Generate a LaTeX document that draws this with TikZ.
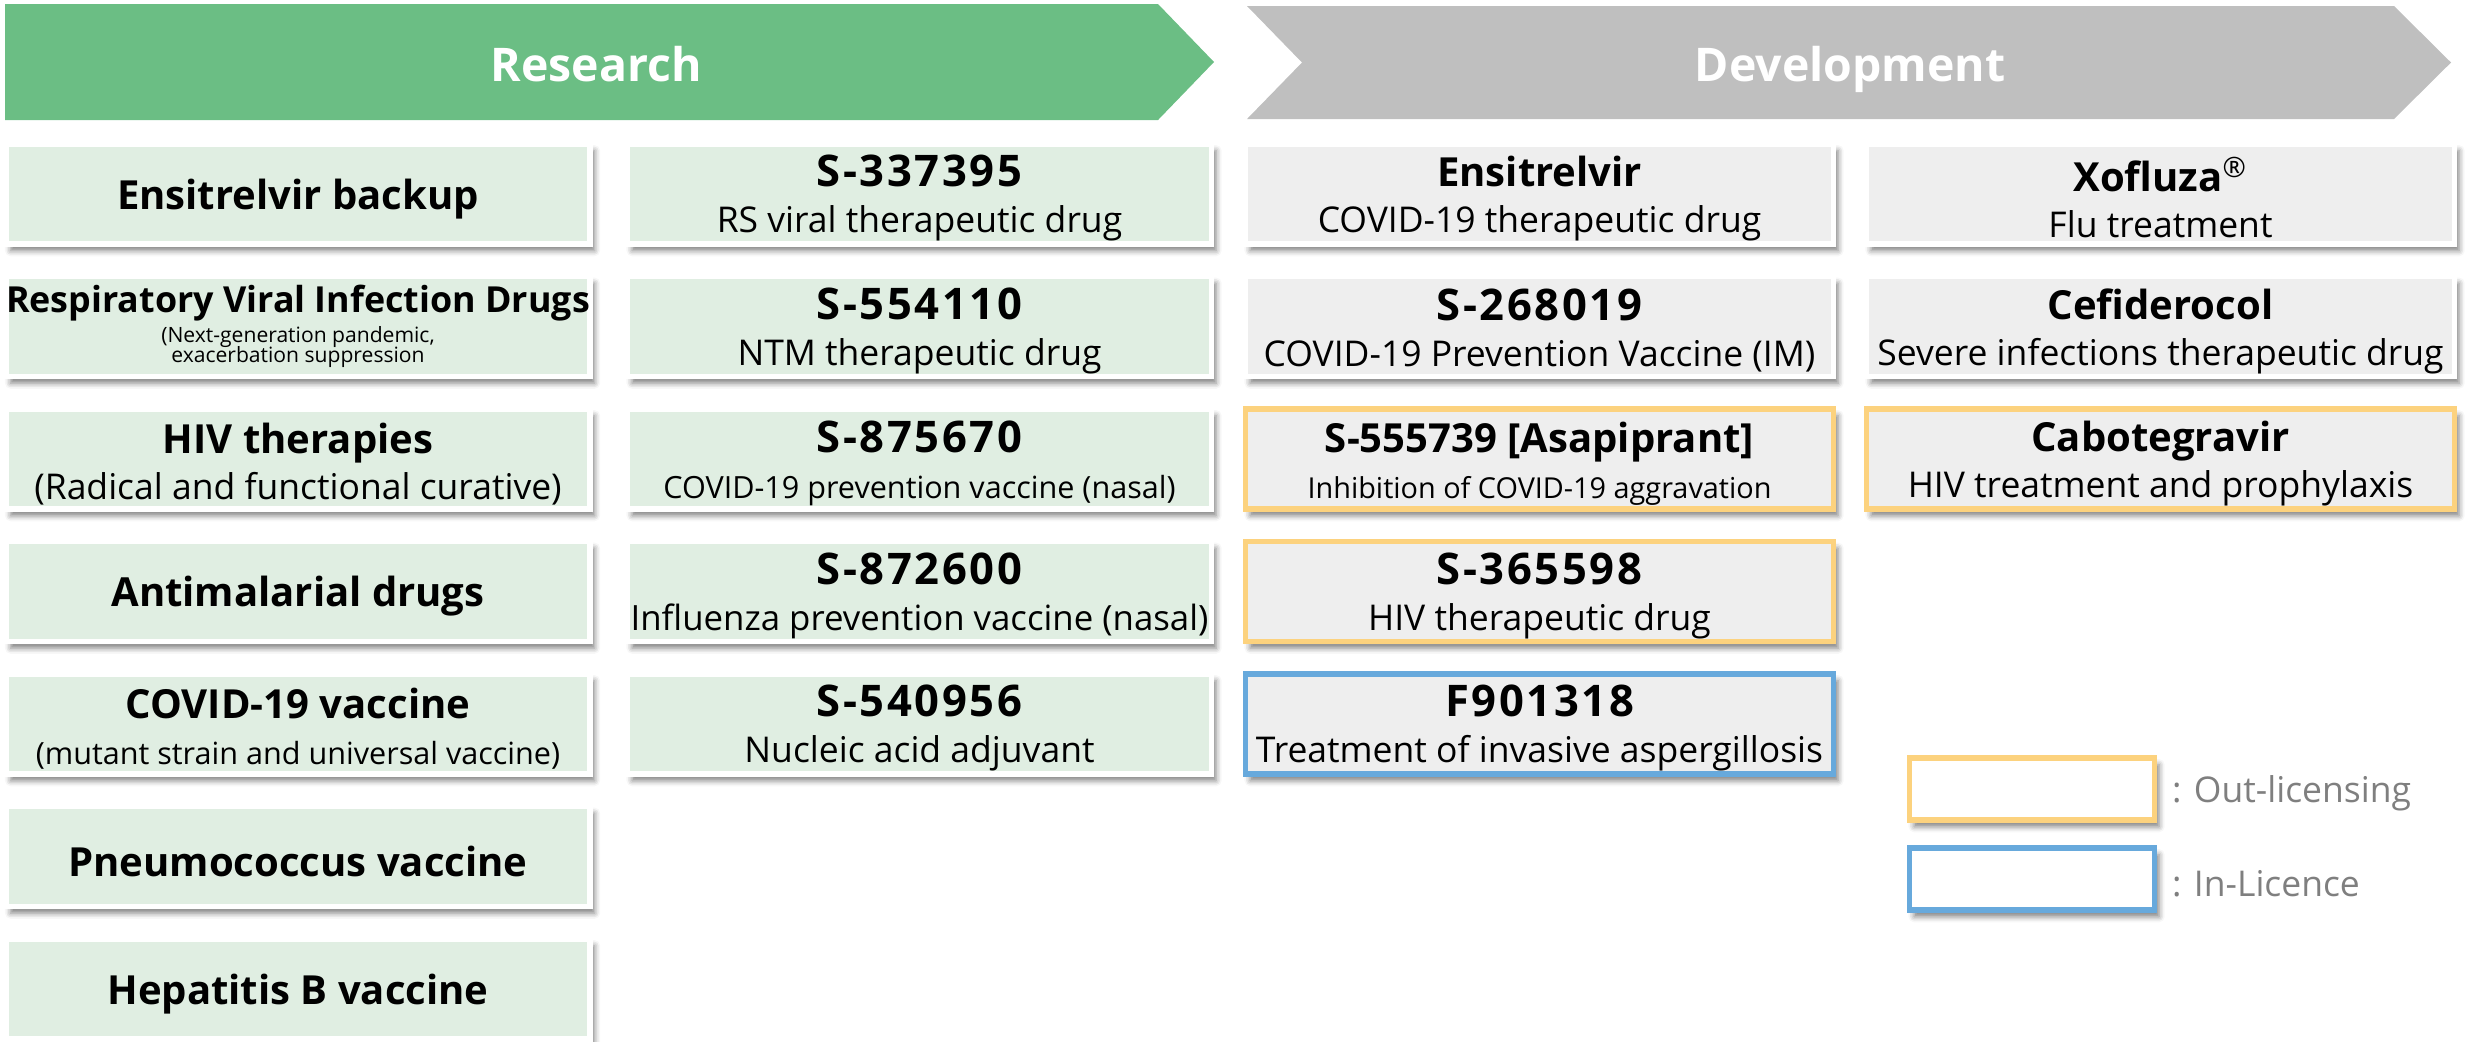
\documentclass[tikz,border=0pt]{standalone}
\usepackage{fontspec}
\setmainfont{Open Sans}
\usetikzlibrary{positioning, shadows.blur}

\definecolor{resgreen}{HTML}{6BBE84}
\definecolor{devgray}{HTML}{BFBFBF}
\definecolor{resfill}{HTML}{E0EEE2}
\definecolor{devfill}{HTML}{EEEEEE}
\definecolor{outyellow}{HTML}{FCD27E}
\definecolor{inblue}{HTML}{67A9DC}
\definecolor{legtext}{HTML}{7F7F7F}

\newcommand{\drugfont}{\bfseries\fontsize{11.4}{13.1}\selectfont\rule{0pt}{11.5pt}}
\newcommand{\codefont}{\bfseries\fontsize{12.4}{13.1}\selectfont\addfontfeature{LetterSpace=6}\rule{0pt}{11.5pt}}
\newcommand{\notefont}{\fontsize{10.1}{13.1}\selectfont}
\newcommand{\smallnote}{\fontsize{8.7}{13.1}\selectfont}
\newcommand{\tinynote}{\fontsize{6.0}{5.8}\selectfont}

\begin{document}
\begin{tikzpicture}[
  card/.style={draw=white, line width=1.6pt, align=center, inner sep=0pt, outer sep=0pt,
    minimum width=5.84cm, minimum height=1.0cm, font=\notefont,
    blur shadow={shadow xshift=1.3pt, shadow yshift=-1.9pt, shadow blur radius=1.6pt, shadow opacity=50}},
  resbox/.style={card, fill=resfill},
  devbox/.style={card, fill=devfill, minimum width=5.88cm},
  outlic/.style={draw=outyellow},
  inlic/.style={draw=inblue},
  phase/.style={text=white, anchor=base, font=\bfseries\fontsize{13.2}{16}\selectfont},
  legbox/.style={card, fill=white, minimum width=2.45cm, minimum height=0.62cm},
  legtxt/.style={font=\fontsize{10.1}{12}\selectfont, text=legtext, inner sep=0pt}
]
\useasboundingbox (0,0) rectangle (24.65,-10.41);

% phase arrows
\fill[resgreen] (0.05,-0.04) -- (11.58,-0.04) -- (12.14,-0.62) -- (11.58,-1.20) -- (0.05,-1.20) -- cycle;
\fill[devgray] (12.47,-0.06) -- (23.94,-0.06) -- (24.51,-0.625) -- (23.94,-1.19) -- (12.47,-1.19) -- (13.02,-0.625) -- cycle;
\node[phase] (research) at (5.96,-0.81) {Research};
\node[phase] (develop) at (18.5,-0.81) {Development};

% research: themes
\node[resbox] (ensback) at (2.98,-1.94) {\drugfont Ensitrelvir backup};
\node[resbox] (respvir) at (2.98,-3.265)
  {{\bfseries\fontsize{10.2}{13.1}\selectfont Respiratory Viral Infection Drugs}\\[-4.7pt]
   {\tinynote (Next-generation pandemic,}\\[-7.2pt]{\tinynote exacerbation suppression}};
\node[resbox] (hivther) at (2.98,-4.59)
  {{\drugfont HIV therapies}\\(Radical and functional curative)};
\node[resbox] (malaria) at (2.98,-5.915) {\drugfont Antimalarial drugs};
\node[resbox] (covvac) at (2.98,-7.24)
  {{\drugfont COVID-19 vaccine}\\{\smallnote (mutant strain and universal vaccine)}};
\node[resbox] (pneumo) at (2.98,-8.565) {\drugfont Pneumococcus vaccine};
\node[resbox] (hepb) at (2.98,-9.89) {\drugfont Hepatitis B vaccine};

% research: compounds
\node[resbox] (s337395) at (9.195,-1.94) {{\codefont S-337395}\\RS viral therapeutic drug};
\node[resbox] (s554110) at (9.195,-3.265) {{\codefont S-554110}\\NTM therapeutic drug};
\node[resbox] (s875670) at (9.195,-4.59)
  {{\codefont S-875670}\\{\smallnote COVID-19 prevention vaccine (nasal)}};
\node[resbox] (s872600) at (9.195,-5.915)
  {{\codefont S-872600}\\{\fontsize{9.9}{13.1}\selectfont Influenza prevention vaccine (nasal)}};
\node[resbox] (s540956) at (9.195,-7.24) {{\codefont S-540956}\\Nucleic acid adjuvant};

% development
\node[devbox] (ensit) at (15.395,-1.94) {{\drugfont Ensitrelvir}\\COVID-19 therapeutic drug};
\node[devbox] (s268019) at (15.395,-3.265)
  {{\codefont S-268019}\\COVID-19 Prevention Vaccine (IM)};
\node[devbox, outlic] (s555739) at (15.395,-4.59)
  {{\drugfont S-555739 [Asapiprant]}\\{\fontsize{8.2}{13.1}\selectfont Inhibition of COVID-19 aggravation}};
\node[devbox, outlic] (s365598) at (15.395,-5.915)
  {{\codefont S-365598}\\HIV therapeutic drug};
\node[devbox, inlic] (f901318) at (15.395,-7.24)
  {{\codefont F901318}\\Treatment of invasive aspergillosis};

\node[devbox] (xofluza) at (21.605,-1.94) {{\drugfont Xofluza\textsuperscript{\mdseries ®}}\\Flu treatment};
\node[devbox] (cefid) at (21.605,-3.265)
  {{\drugfont Cefiderocol}\\Severe infections therapeutic drug};
\node[devbox, outlic] (cabo) at (21.605,-4.59)
  {{\drugfont Cabotegravir}\\HIV treatment and prophylaxis};

% legend
\node[legbox, outlic] (legout) at (20.32,-7.89) {};
\node[legbox, inlic] (legin) at (20.32,-8.79) {};
\node[legtxt, right=0.17cm of legout, yshift=-1.2pt] (legouttxt) {: Out-licensing};
\node[legtxt, right=0.17cm of legin, yshift=-1.2pt] (legintxt) {: In-Licence};

\end{tikzpicture}
\end{document}
